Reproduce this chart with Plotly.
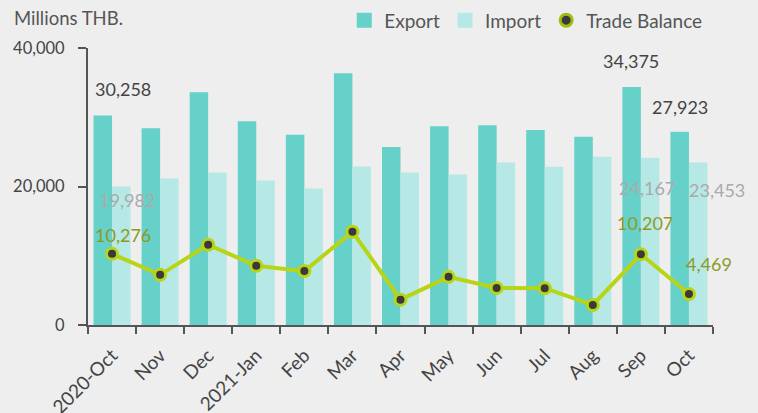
import plotly.graph_objects as go

categories = ["2020-Oct", "Nov", "Dec", "2021-Jan", "Feb", "Mar", "Apr", "May", "Jun", "Jul", "Aug", "Sep", "Oct"]
export_vals = [30258, 28400, 33620, 29420, 27490, 36370, 25690, 28690, 28840, 28160, 27190, 34375, 27923]
import_vals = [19982, 21160, 22030, 20870, 19710, 22900, 22030, 21740, 23480, 22850, 24300, 24167, 23453]
balance_vals = [10276, 7240, 11590, 8550, 7780, 13470, 3660, 6950, 5360, 5310, 2890, 10207, 4469]

FONT = "Lato"
EXPORT_C = "#66d1c9"
IMPORT_C = "#b6e8e5"
LINE_C = "#b8d416"

fig = go.Figure()
fig.add_trace(go.Bar(x=categories, y=export_vals, name="Export", marker_color=EXPORT_C,
                     marker_line_width=0, showlegend=False))
fig.add_trace(go.Bar(x=categories, y=import_vals, name="Import", marker_color=IMPORT_C,
                     marker_line_width=0, showlegend=False))
fig.add_trace(go.Scatter(x=categories, y=balance_vals, name="Trade Balance", mode="lines+markers",
                         line=dict(color=LINE_C, width=4), showlegend=False,
                         marker=dict(color="#3a3a3a", size=11, line=dict(color=LINE_C, width=3))))
# legend entries
fig.add_trace(go.Scatter(x=[None], y=[None], name="Export", mode="markers",
                         marker=dict(symbol="square", size=15, color=EXPORT_C)))
fig.add_trace(go.Scatter(x=[None], y=[None], name="Import", mode="markers",
                         marker=dict(symbol="square", size=15, color=IMPORT_C)))
fig.add_trace(go.Scatter(x=[None], y=[None], name="Trade Balance", mode="markers",
                         marker=dict(color="#3a3a3a", size=12, line=dict(color="#a3bb10", width=3))))

ann = []
def lab(idx, vals, color, xs, ys):
    ann.append(dict(x=categories[idx], y=vals[idx], text=f"{vals[idx]:,}", showarrow=False,
                    xshift=xs, yshift=ys, font=dict(family=FONT, size=18, color=color)))

lab(0, export_vals, "#444444", 11, 26)
lab(11, export_vals, "#444444", -10, 26)
lab(12, export_vals, "#444444", -9, 25)
lab(0, import_vals, "#aaaaaa", 15, -13)
lab(11, import_vals, "#aaaaaa", 6, -30)
lab(12, import_vals, "#aaaaaa", 28, -27)
lab(0, balance_vals, "#8c9a25", 11, 19)
lab(11, balance_vals, "#8c9a25", 4, 31)
lab(12, balance_vals, "#8c9a25", 20, 30)

ann.append(dict(xref="paper", yref="paper", x=-0.122, y=1.108, xanchor="left", yanchor="middle",
                text="Millions THB.", showarrow=False, font=dict(family=FONT, size=18.5, color="#555555")))

fig.update_layout(
    width=758, height=413,
    margin=dict(l=88, r=45, t=48, b=88, autoexpand=False),
    paper_bgcolor="#eeeeef", plot_bgcolor="rgba(0,0,0,0)",
    barmode="group", bargap=0.23, bargroupgap=0,
    font=dict(family=FONT, size=17, color="#444444"),
    separators=".,",
    showlegend=True,
    legend=dict(orientation="h", x=0.41, y=1.10, xanchor="left", yanchor="middle",
                font=dict(family=FONT, size=19, color="#555555"), bgcolor="rgba(0,0,0,0)",
                itemwidth=30, tracegroupgap=0),
    annotations=ann,
    xaxis=dict(range=[-0.5, len(categories) - 0.5], showline=True, linecolor="#555555", linewidth=2,
               ticks="outside", tickson="boundaries", ticklabelstandoff=10,
               ticklen=7, tickwidth=2, tickcolor="#555555", tickangle=-45, showgrid=False,
               tickfont=dict(family=FONT, size=19, color="#444444")),
    yaxis=dict(range=[0, 40000], dtick=20000, showline=True, linecolor="#555555", linewidth=2,
               ticks="outside", ticklen=8, tickwidth=2, tickcolor="#555555", showgrid=False,
               ticklabelstandoff=10,
               zeroline=False, tickformat=",d", tickfont=dict(family=FONT, size=16.5, color="#444444")),
)

fig.write_html("out.html", config={"displayModeBar": False},
               post_script="document.body.style.margin='0';document.body.style.background='#eeeeef';")
